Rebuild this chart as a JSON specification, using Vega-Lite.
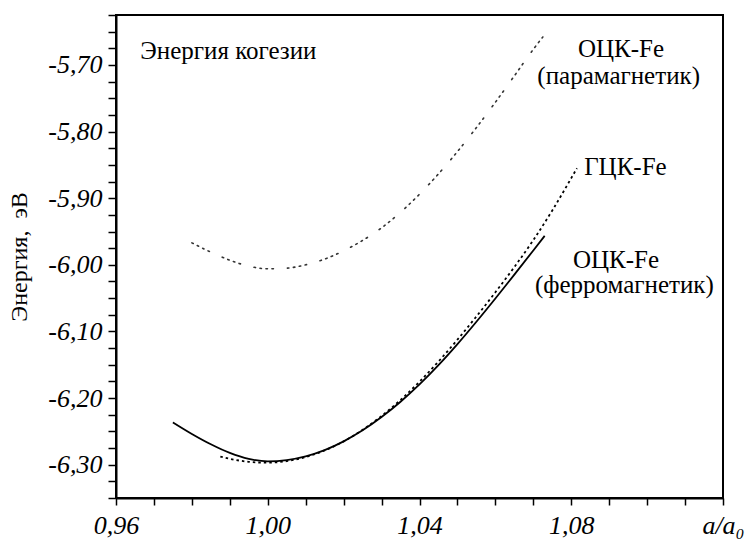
{
  "$schema": "https://vega.github.io/schema/vega-lite/v6.json",
  "autosize": "none",
  "width": 607,
  "height": 483,
  "padding": {"left": 116, "top": 15, "right": 25, "bottom": 45},
  "background": "white",
  "config": {
    "view": {"stroke": "black", "strokeWidth": 2},
    "font": "Liberation Serif"
  },
  "datasets": {
    "ferro": [
      {"x": 0.975, "y": -6.2365}, {"x": 0.98, "y": -6.2538}, {"x": 0.985, "y": -6.2693},
      {"x": 0.99, "y": -6.2823}, {"x": 0.995, "y": -6.2913}, {"x": 1.0, "y": -6.295},
      {"x": 1.005, "y": -6.2931}, {"x": 1.01, "y": -6.2875}, {"x": 1.015, "y": -6.2781},
      {"x": 1.02, "y": -6.265}, {"x": 1.025, "y": -6.2484}, {"x": 1.03, "y": -6.2285},
      {"x": 1.035, "y": -6.2055}, {"x": 1.04, "y": -6.1795}, {"x": 1.045, "y": -6.1506},
      {"x": 1.05, "y": -6.119}, {"x": 1.055, "y": -6.0854}, {"x": 1.06, "y": -6.0505},
      {"x": 1.065, "y": -6.0147}, {"x": 1.07, "y": -5.9784}, {"x": 1.073, "y": -5.9565}
    ],
    "fcc": [
      {"x": 0.9875, "y": -6.2878}, {"x": 0.99, "y": -6.2912}, {"x": 0.9925, "y": -6.2938},
      {"x": 0.995, "y": -6.2957}, {"x": 0.9975, "y": -6.2967}, {"x": 1.0, "y": -6.297},
      {"x": 1.005, "y": -6.2946}, {"x": 1.01, "y": -6.2885}, {"x": 1.015, "y": -6.2786},
      {"x": 1.02, "y": -6.265}, {"x": 1.025, "y": -6.2477}, {"x": 1.03, "y": -6.2269},
      {"x": 1.035, "y": -6.2028}, {"x": 1.04, "y": -6.1754}, {"x": 1.045, "y": -6.1451},
      {"x": 1.05, "y": -6.1123}, {"x": 1.055, "y": -6.0775}, {"x": 1.06, "y": -6.0412},
      {"x": 1.065, "y": -6.0033}, {"x": 1.07, "y": -5.9629}, {"x": 1.075, "y": -5.9184},
      {"x": 1.08, "y": -5.8699}, {"x": 1.0815, "y": -5.855}
    ],
    "para": [
      {"x": 0.98, "y": -5.967}, {"x": 0.985, "y": -5.981}, {"x": 0.99, "y": -5.993},
      {"x": 0.995, "y": -6.002}, {"x": 1.0, "y": -6.006}, {"x": 1.005, "y": -6.005},
      {"x": 1.01, "y": -6.0}, {"x": 1.015, "y": -5.9913}, {"x": 1.02, "y": -5.979},
      {"x": 1.025, "y": -5.9634}, {"x": 1.03, "y": -5.9445}, {"x": 1.035, "y": -5.9211},
      {"x": 1.04, "y": -5.894}, {"x": 1.045, "y": -5.8635}, {"x": 1.05, "y": -5.83},
      {"x": 1.055, "y": -5.794}, {"x": 1.06, "y": -5.756}, {"x": 1.065, "y": -5.7164},
      {"x": 1.07, "y": -5.6765}, {"x": 1.0725, "y": -5.658}
    ],
    "labelsLeft": [
      {"x": 0.9664, "y": -5.679, "t": "Энергия когезии"},
      {"x": 1.0834, "y": -5.853, "t": "ГЦК-Fe"}
    ],
    "labelsCenter": [
      {"x": 1.0931, "y": -5.676, "t": "ОЦК-Fe"},
      {"x": 1.0925, "y": -5.716, "t": "(парамагнетик)"},
      {"x": 1.0918, "y": -5.9925, "t": "ОЦК-Fe"},
      {"x": 1.094, "y": -6.031, "t": "(ферромагнетик)"}
    ]
  },
  "encoding": {
    "x": {
      "field": "x", "type": "quantitative",
      "scale": {"domain": [0.96, 1.12], "nice": false, "zero": false},
      "axis": {
        "title": null,
        "grid": false,
        "values": [0.96, 0.97, 0.98, 0.99, 1.0, 1.01, 1.02, 1.03, 1.04, 1.05, 1.06, 1.07, 1.08, 1.09, 1.1, 1.11, 1.12],
        "labelExpr": "datum.value > 1.115 ? 'a/a₀' : (round(datum.value*100) % 4 == 0 ? replace(format(datum.value, '.2f'), '.', ',') : '')",
        "labelFont": "Liberation Serif", "labelFontStyle": "italic", "labelFontSize": 26, "labelColor": "black",
        "labelPadding": 7, "labelOverlap": false, "labelFlush": false,
        "domainColor": "black", "domainWidth": 2,
        "tickColor": "black", "tickWidth": 1.5, "tickSize": 7
      }
    },
    "y": {
      "field": "y", "type": "quantitative",
      "scale": {"domain": [-6.35, -5.625], "nice": false, "zero": false},
      "axis": {
        "title": "Энергия,\u00a0\u00a0эВ",
        "titleFont": "Liberation Serif", "titleFontSize": 24, "titleFontWeight": "normal", "titleColor": "black",
        "titlePadding": 16,
        "grid": false,
        "values": [-6.35, -6.325, -6.3, -6.275, -6.25, -6.225, -6.2, -6.175, -6.15, -6.125, -6.1, -6.075, -6.05, -6.025, -6.0, -5.975, -5.95, -5.925, -5.9, -5.875, -5.85, -5.825, -5.8, -5.775, -5.75, -5.725, -5.7, -5.675, -5.65, -5.625],
        "labelExpr": "round(datum.value*1000) % 100 == 0 ? replace(replace(format(datum.value, '.2f'), '.', ','), '−', '-') : ''",
        "labelFont": "Liberation Serif", "labelFontStyle": "italic", "labelFontSize": 26, "labelColor": "black",
        "labelPadding": 6, "labelOverlap": false,
        "domainColor": "black", "domainWidth": 2,
        "tickColor": "black", "tickWidth": 1.5, "tickSize": 8
      }
    }
  },
  "layer": [
    {
      "data": {"name": "ferro"},
      "mark": {"type": "line", "color": "black", "strokeWidth": 1.8, "interpolate": "monotone"}
    },
    {
      "data": {"name": "fcc"},
      "mark": {"type": "line", "color": "black", "strokeWidth": 1.8, "strokeDash": [2.5, 3], "interpolate": "monotone"}
    },
    {
      "data": {"name": "para"},
      "mark": {"type": "line", "color": "#333", "strokeWidth": 1.6, "strokeDash": [1.5, 4.5, 1.5, 4.5, 1.5, 4.5, 1.5, 14], "strokeCap": "round", "interpolate": "monotone"}
    },
    {
      "data": {"name": "labelsLeft"},
      "mark": {"type": "text", "align": "left", "baseline": "middle", "font": "Liberation Serif", "fontSize": 25, "color": "black"},
      "encoding": {"text": {"field": "t"}}
    },
    {
      "data": {"name": "labelsCenter"},
      "mark": {"type": "text", "align": "center", "baseline": "middle", "font": "Liberation Serif", "fontSize": 25, "color": "black"},
      "encoding": {"text": {"field": "t"}}
    }
  ]
}
